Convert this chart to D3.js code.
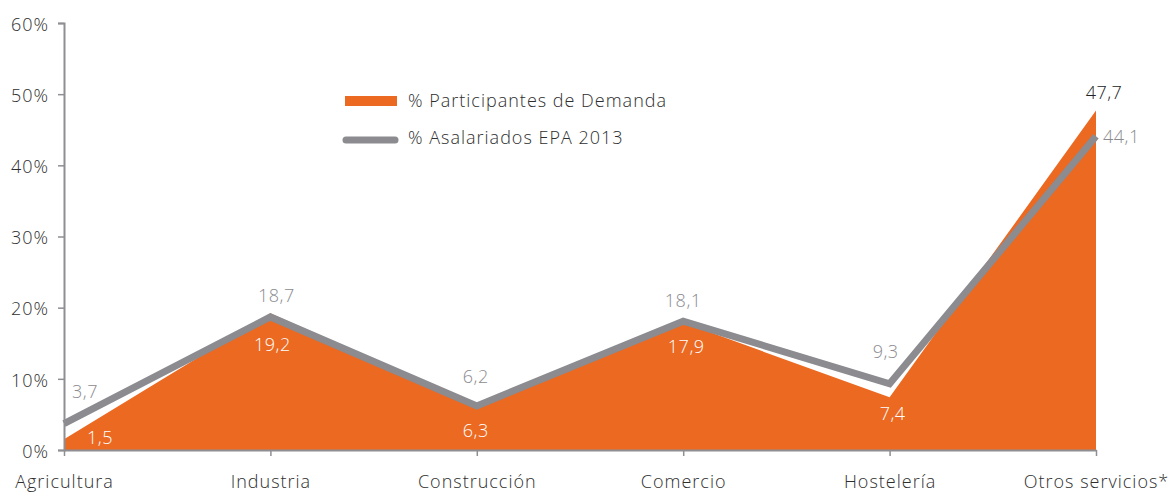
<!DOCTYPE html>
<html>
<head>
<meta charset="utf-8">
<script src="https://cdn.jsdelivr.net/npm/d3@7"></script>
<style>
  html, body { margin: 0; padding: 0; background: #fff; }
  svg { display: block; font-family: 'Open Sans', 'Noto Sans', sans-serif; }
</style>
</head>
<body>
<svg id="chart" width="1168" height="492"></svg>
<script>
// Sectors and values (% of total)
const categories = ['Agricultura', 'Industria', 'Construcción', 'Comercio', 'Hostelería', 'Otros servicios*'];
const participantes = [1.5, 19.2, 6.3, 17.9, 7.4, 47.7];
const asalariados = [3.7, 18.7, 6.2, 18.1, 9.3, 44.1];
const yTicks = [0, 10, 20, 30, 40, 50, 60];

const ORANGE = '#eb6921';
const GREY = '#8b8b90';
const AXIS = '#8e8e93';
const TEXT = '#2e2e2e';

const svg = d3.select('#chart');

const x = d3.scalePoint().domain(categories).range([64, 1096]);
const y = d3.scaleLinear().domain([0, 60]).range([450, 23]);

const fmt = v => v.toFixed(1).replace('.', ',');

// Orange area
const area = d3.area()
  .x((d, i) => x(categories[i]))
  .y0(y(0))
  .y1(d => y(d));
svg.append('path')
  .datum(participantes)
  .attr('d', area)
  .attr('fill', ORANGE);

// Grey line
const line = d3.line()
  .x((d, i) => x(categories[i]))
  .y(d => y(d));
svg.append('path')
  .datum(asalariados)
  .attr('d', line)
  .attr('fill', 'none')
  .attr('stroke', GREY)
  .attr('stroke-width', 7)
  .attr('stroke-linejoin', 'miter');

// Y axis
const yAxis = svg.append('g')
  .attr('transform', `translate(${x(categories[0])},0)`)
  .call(d3.axisLeft(y).tickValues(yTicks).tickSize(6).tickPadding(9).tickFormat(d => d + '%'));
yAxis.select('.domain').attr('stroke', AXIS).attr('stroke-width', 2);
yAxis.selectAll('.tick line').attr('stroke', AXIS).attr('stroke-width', 1.5);
yAxis.selectAll('.tick text')
  .attr('fill', TEXT).attr('font-size', 18).attr('font-weight', 300)
  .attr('letter-spacing', 1)
  .attr('font-family', "'Open Sans', sans-serif")
  .attr('dy', '0.4em');

// X axis
const xAxis = svg.append('g')
  .attr('transform', `translate(0,${y(0)})`)
  .call(d3.axisBottom(x).tickSize(6).tickSizeOuter(0));
xAxis.select('.domain').attr('stroke', AXIS).attr('stroke-width', 2);
xAxis.selectAll('.tick line').attr('stroke', AXIS).attr('stroke-width', 1.5);
xAxis.selectAll('.tick text')
  .attr('fill', TEXT).attr('font-size', 18).attr('font-weight', 300)
  .attr('letter-spacing', 1)
  .attr('font-family', "'Open Sans', sans-serif")
  .attr('y', 38).attr('dy', 0);

// Value labels: offsets relative to the data point
const greyOffsets = [[21, -26], [6, -15], [-1, -23], [0, -14], [-4, -26], [7, 7]];
const orangeOffsets = [[36, 5], [2, 38], [-1, 32], [3, 30], [3, 23], [8, -12]];

svg.append('g').selectAll('text')
  .data(asalariados)
  .join('text')
  .attr('x', (d, i) => x(categories[i]) + greyOffsets[i][0])
  .attr('y', (d, i) => y(d) + greyOffsets[i][1])
  .attr('text-anchor', (d, i) => i === 5 ? 'start' : 'middle')
  .attr('font-size', 18).attr('font-weight', 300).attr('letter-spacing', 0.5)
  .attr('fill', GREY)
  .text(fmt);

svg.append('g').selectAll('text')
  .data(participantes)
  .join('text')
  .attr('x', (d, i) => x(categories[i]) + orangeOffsets[i][0])
  .attr('y', (d, i) => y(d) + orangeOffsets[i][1])
  .attr('text-anchor', 'middle')
  .attr('font-size', 18).attr('font-weight', 300).attr('letter-spacing', 0.5)
  .attr('fill', (d, i) => i === 5 ? '#222' : '#fff')
  .text(fmt);

// Legend
const legend = svg.append('g');
legend.append('rect')
  .attr('x', 345).attr('y', 96).attr('width', 52).attr('height', 10)
  .attr('fill', ORANGE);
legend.append('text')
  .attr('x', 408).attr('y', 107)
  .attr('font-size', 18).attr('font-weight', 300).attr('letter-spacing', 1).attr('fill', TEXT)
  .text('% Participantes de Demanda');
legend.append('line')
  .attr('x1', 346).attr('x2', 395).attr('y1', 140).attr('y2', 140)
  .attr('stroke', GREY).attr('stroke-width', 7).attr('stroke-linecap', 'round');
legend.append('text')
  .attr('x', 408).attr('y', 144)
  .attr('font-size', 18).attr('font-weight', 300).attr('letter-spacing', 1).attr('fill', TEXT)
  .text('% Asalariados EPA 2013');
</script>
</body>
</html>
